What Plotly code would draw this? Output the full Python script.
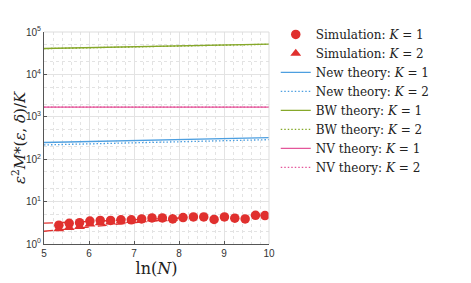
import plotly.graph_objects as go

# Data
lnN_sim = [5.33, 5.56, 5.79, 6.02, 6.25, 6.48, 6.71, 6.94, 7.17, 7.40, 7.63,
           7.86, 8.09, 8.32, 8.55, 8.78, 9.01, 9.24, 9.47, 9.70, 9.91]
sim_k1 = [2.78, 3.08, 3.18, 3.47, 3.6, 3.6, 3.71, 3.71, 3.91, 4.12, 4.12,
          3.91, 4.2, 4.34, 4.34, 3.79, 4.34, 4.06, 3.91, 4.74, 4.67]
lnN_sim2 = [5.33, 5.56, 5.79, 6.02, 6.25, 6.48, 6.71, 6.94, 7.17, 7.40, 7.63, 7.86]
sim_k2 = [2.26, 2.45, 2.58, 2.93, 3.15, 3.3, 3.45, 3.55, 3.7, 3.85, 3.9, 4.0]

fit_x = [5.0, 8.0]
fit_k1 = [3.1, 4.1]
fit_k2 = [2.0, 4.0]

theory_x = [5.0, 10.0]
new_k1 = [248, 321]
new_k2 = [217, 289]
bw_k1 = [40800, 51700]
bw_k2 = [40500, 51400]
nv_k1 = [1690, 1690]
nv_k2 = [1690, 1690]

RED = "#E0302E"
BLUE = "#4D9FE0"
GREEN = "#86A82A"
PINK = "#E4569A"
DOT = "1.5px,2px"

fig = go.Figure()

# dashed fit lines (not in legend)
fig.add_trace(go.Scatter(x=fit_x, y=fit_k1, mode="lines", showlegend=False,
                         line=dict(color=RED, width=1.3, dash="dash")))
fig.add_trace(go.Scatter(x=fit_x, y=fit_k2, mode="lines", showlegend=False,
                         line=dict(color=RED, width=1.3, dash="dash")))

fig.add_trace(go.Scatter(x=lnN_sim, y=sim_k1, mode="markers",
                         name="Simulation: <i>K</i> = 1",
                         marker=dict(symbol="circle", size=9.5, color=RED)))
fig.add_trace(go.Scatter(x=lnN_sim2, y=sim_k2, mode="markers",
                         name="Simulation: <i>K</i> = 2",
                         marker=dict(symbol="triangle-up", size=9.5, color=RED)))
fig.add_trace(go.Scatter(x=theory_x, y=new_k1, mode="lines",
                         name="New theory: <i>K</i> = 1",
                         line=dict(color=BLUE, width=1.3)))
fig.add_trace(go.Scatter(x=theory_x, y=new_k2, mode="lines",
                         name="New theory: <i>K</i> = 2",
                         line=dict(color=BLUE, width=1.3, dash=DOT)))
fig.add_trace(go.Scatter(x=theory_x, y=bw_k1, mode="lines",
                         name="BW theory: <i>K</i> = 1",
                         line=dict(color=GREEN, width=1.3)))
fig.add_trace(go.Scatter(x=theory_x, y=bw_k2, mode="lines",
                         name="BW theory: <i>K</i> = 2",
                         line=dict(color=GREEN, width=1.3, dash=DOT)))
fig.add_trace(go.Scatter(x=theory_x, y=nv_k1, mode="lines",
                         name="NV theory: <i>K</i> = 1",
                         line=dict(color=PINK, width=1.3)))
fig.add_trace(go.Scatter(x=theory_x, y=nv_k2, mode="lines",
                         name="NV theory: <i>K</i> = 2",
                         line=dict(color=PINK, width=1.3, dash=DOT)))

tick_font = dict(family="Liberation Sans, Arial, sans-serif", size=10, color="#333333")
serif = "DejaVu Serif, Liberation Serif, serif"

# page body has an 8px default margin; figure sized to fit the window
W, H = 463, 275
fig.update_layout(
    width=W, height=H,
    margin=dict(l=36, r=202, t=14, b=39),
    paper_bgcolor="white", plot_bgcolor="white",
    legend=dict(x=1.03, y=0.675, xanchor="left", yanchor="middle",
                font=dict(family=serif, size=12, color="#222222"),
                bgcolor="rgba(0,0,0,0)", tracegroupgap=0, itemwidth=30),
    xaxis=dict(range=[5, 10], tickvals=[5, 6, 7, 8, 9, 10], automargin=False,
               showgrid=True, gridcolor="#E3E3E3", gridwidth=1,
               showline=True, linecolor="#555555", linewidth=1,
               ticks="inside", ticklen=3, tickcolor="#555555",
               tickfont=tick_font, zeroline=False,
               minor=dict(dtick=0.2, showgrid=True, gridcolor="#E3E3E3",
                          griddash="dot", gridwidth=1),
               title=dict(text="ln(<i>N</i>)", font=dict(family=serif, size=16, color="#222222"),
                          standoff=4)),
    yaxis=dict(type="log", range=[0, 5], automargin=False,
               tickvals=[1, 10, 100, 1000, 10000, 100000],
               ticktext=["10<sup>0</sup>", "10<sup>1</sup>", "10<sup>2</sup>",
                         "10<sup>3</sup>", "10<sup>4</sup>", "10<sup>5</sup>"],
               showgrid=True, gridcolor="#E3E3E3", gridwidth=1,
               showline=True, linecolor="#555555", linewidth=1,
               ticks="inside", ticklen=3, tickcolor="#555555",
               tickfont=tick_font, zeroline=False,
               minor=dict(showgrid=True, gridcolor="#E3E3E3", griddash="dot",
                          gridwidth=1)),
    annotations=[dict(text="<i>ε</i><sup>2</sup><i>M</i>*(<i>ε</i>, <i>δ</i>)/<i>K</i>",
                      xref="paper", yref="paper", x=-25 / 225, y=0.5,
                      xanchor="center", yanchor="middle", textangle=-90,
                      showarrow=False,
                      font=dict(family=serif, size=15, color="#222222"))],
)

# light top/right border
fig.add_shape(type="line", xref="paper", yref="paper", x0=0, x1=1, y0=1, y1=1,
              line=dict(color="#DDDDDD", width=1))
fig.add_shape(type="line", xref="paper", yref="paper", x0=1, x1=1, y0=0, y1=1,
              line=dict(color="#DDDDDD", width=1))

fig.write_html("out.html")
